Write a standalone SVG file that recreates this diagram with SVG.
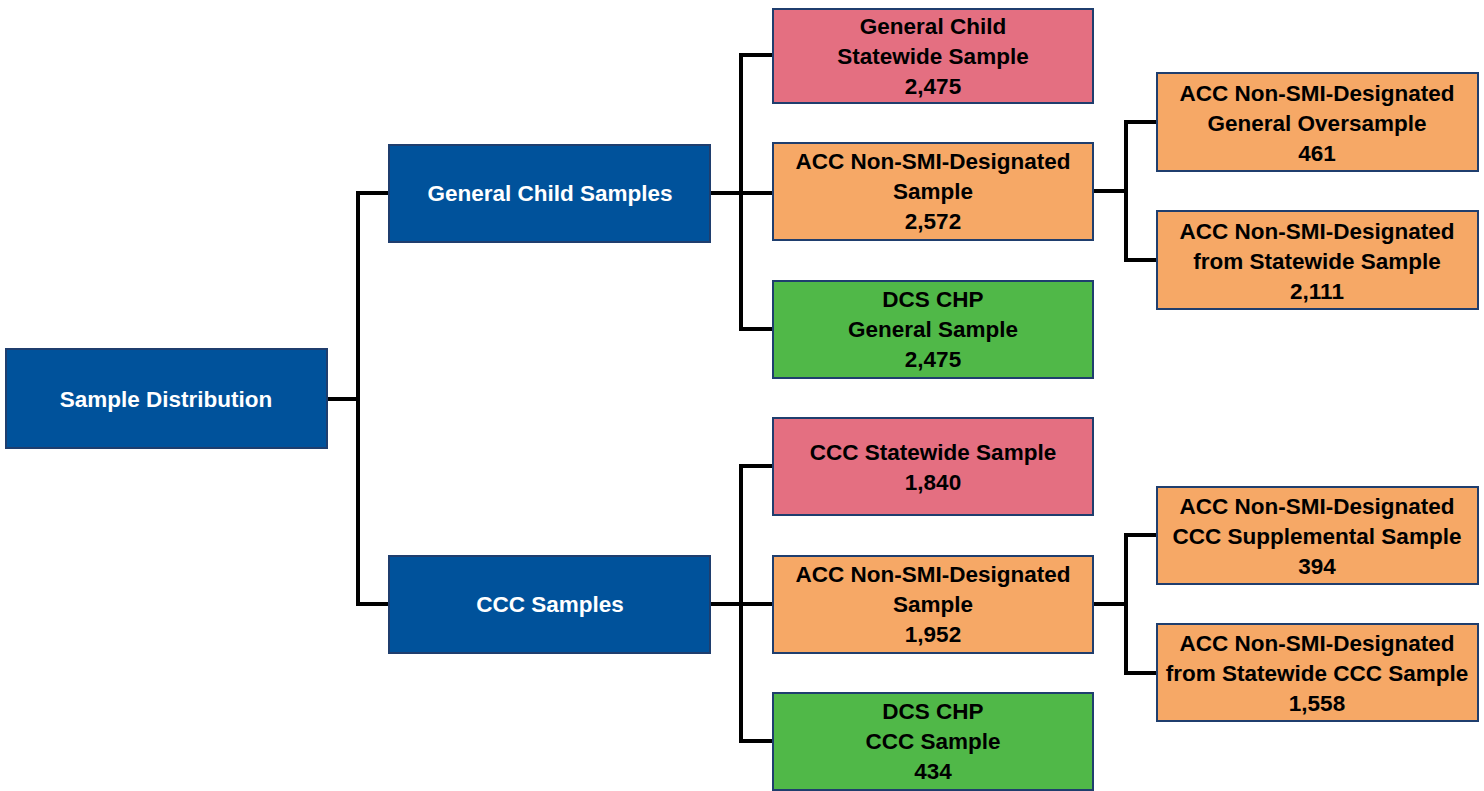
<svg xmlns="http://www.w3.org/2000/svg" width="1484" height="791" viewBox="0 0 1484 791">
<style>
.box{stroke:#1F3E6E;stroke-width:2}
.blue{fill:#00529B}
.pink{fill:#E46F81}
.orange{fill:#F6A866}
.green{fill:#50B848}
text{font-family:"Liberation Sans",Arial,sans-serif;font-weight:bold;font-size:22.5px;text-anchor:middle}
.w{fill:#FFFFFF}
.k{fill:#000000}
.c{fill:none;stroke:#000;stroke-width:4;stroke-linecap:square}
</style>
<rect width="1484" height="791" fill="#FFFFFF"/>
<g id="connectors">
<path class="c" d="M327 399H358M358 193V604M358 193H389M358 604H389"/>
<path class="c" d="M710 193H773M741 55V329M741 55H773M741 329H773"/>
<path class="c" d="M710 604H773M741 466V741M741 466H773M741 741H773"/>
<path class="c" d="M1093 191H1126M1126 122V260M1126 122H1157M1126 260H1157"/>
<path class="c" d="M1093 604H1126M1126 535V673M1126 535H1157M1126 673H1157"/>
</g>
<g id="n-root"><rect class="box blue" x="6" y="349" width="321" height="99"/><text class="w" x="166" y="407">Sample Distribution</text></g>
<g id="n-gc"><rect class="box blue" x="389" y="145" width="321" height="97"/><text class="w" x="550" y="201">General Child Samples</text></g>
<g id="n-ccc"><rect class="box blue" x="389" y="556" width="321" height="97"/><text class="w" x="550" y="612">CCC Samples</text></g>
<g id="n-gcs"><rect class="box pink" x="773" y="9" width="320" height="94"/><text class="k" x="933"><tspan x="933" y="34">General Child</tspan><tspan x="933" y="64">Statewide Sample</tspan><tspan x="933" y="94">2,475</tspan></text></g>
<g id="n-accg"><rect class="box orange" x="773" y="143" width="320" height="97"/><text class="k"><tspan x="933" y="169">ACC Non-SMI-Designated</tspan><tspan x="933" y="199">Sample</tspan><tspan x="933" y="229">2,572</tspan></text></g>
<g id="n-dcsg"><rect class="box green" x="773" y="281" width="320" height="97"/><text class="k"><tspan x="933" y="307">DCS CHP</tspan><tspan x="933" y="337">General Sample</tspan><tspan x="933" y="367">2,475</tspan></text></g>
<g id="n-cccs"><rect class="box pink" x="773" y="418" width="320" height="97"/><text class="k"><tspan x="933" y="460">CCC Statewide Sample</tspan><tspan x="933" y="490">1,840</tspan></text></g>
<g id="n-accc"><rect class="box orange" x="773" y="556" width="320" height="97"/><text class="k"><tspan x="933" y="582">ACC Non-SMI-Designated</tspan><tspan x="933" y="612">Sample</tspan><tspan x="933" y="642">1,952</tspan></text></g>
<g id="n-dcsc"><rect class="box green" x="773" y="693" width="320" height="97"/><text class="k"><tspan x="933" y="719">DCS CHP</tspan><tspan x="933" y="749">CCC Sample</tspan><tspan x="933" y="779">434</tspan></text></g>
<g id="n-go"><rect class="box orange" x="1157" y="73" width="321" height="98"/><text class="k"><tspan x="1317" y="101">ACC Non-SMI-Designated</tspan><tspan x="1317" y="131">General Oversample</tspan><tspan x="1317" y="161">461</tspan></text></g>
<g id="n-gs"><rect class="box orange" x="1157" y="211" width="321" height="98"/><text class="k"><tspan x="1317" y="239">ACC Non-SMI-Designated</tspan><tspan x="1317" y="269">from Statewide Sample</tspan><tspan x="1317" y="299">2,111</tspan></text></g>
<g id="n-cs"><rect class="box orange" x="1157" y="487" width="321" height="97"/><text class="k"><tspan x="1317" y="514">ACC Non-SMI-Designated</tspan><tspan x="1317" y="544">CCC Supplemental Sample</tspan><tspan x="1317" y="574">394</tspan></text></g>
<g id="n-cws"><rect class="box orange" x="1157" y="624" width="321" height="97"/><text class="k"><tspan x="1317" y="651">ACC Non-SMI-Designated</tspan><tspan x="1317" y="681">from Statewide CCC Sample</tspan><tspan x="1317" y="711">1,558</tspan></text></g>
</svg>
